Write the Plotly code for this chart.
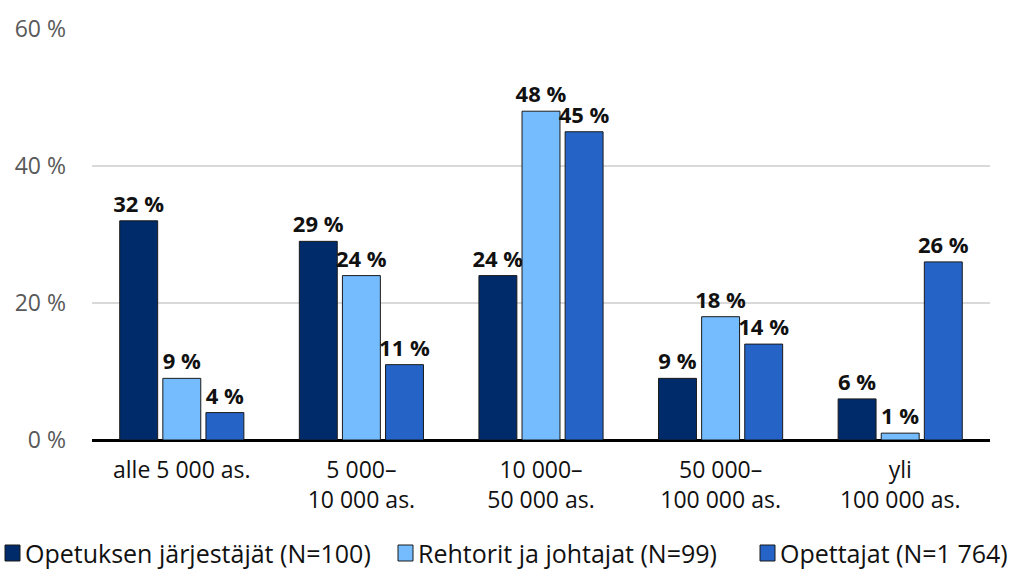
import plotly.graph_objects as go

categories = ["alle 5 000 as.", "5 000–<br>10 000 as.", "10 000–<br>50 000 as.",
              "50 000–<br>100 000 as.", "yli<br>100 000 as."]
series_names = ["Opetuksen järjestäjät (N=100)", "Rehtorit ja johtajat (N=99)",
                "Opettajat (N=1 764)"]
jarjestajat = [32, 29, 24, 9, 6]
rehtorit = [9, 24, 48, 18, 1]
opettajat = [4, 11, 45, 14, 26]
y_ticks = [0, 20, 40, 60]
y_tick_labels = ["0 %", "20 %", "40 %", "60 %"]

colors = ["#002B6B", "#75BCFF", "#2563C6"]
font_family = "Open Sans"

fig = go.Figure()
for name, vals, col in zip(series_names, [jarjestajat, rehtorit, opettajat], colors):
    fig.add_trace(go.Bar(
        x=categories, y=vals, name=name,
        marker=dict(color=col, line=dict(color="#1a1a1a", width=1)),
        text=[f"<b>{v} %</b>" for v in vals], textposition="outside",
        textfont=dict(size=22, color="#111111", family=font_family),
        cliponaxis=False, showlegend=False,
    ))

# Legend row below the chart: swatch + label per series
legend_x = [5, 398, 760]
legend_y = 553
shapes = []
annotations = []
for lx, name, col in zip(legend_x, series_names, colors):
    shapes.append(dict(type="rect", xref="paper", yref="paper",
                       x0=(lx - 92) / 898, x1=(lx + 15 - 92) / 898,
                       y0=(440 - legend_y - 8) / 411, y1=(440 - legend_y + 8) / 411,
                       fillcolor=col, line=dict(color="#1a1a1a", width=1)))
    annotations.append(dict(xref="paper", yref="paper", x=(lx + 18 - 92) / 898,
                            y=(440 - legend_y) / 411, xanchor="left", yanchor="middle",
                            text=name, showarrow=False,
                            font=dict(size=25, color="#111111", family=font_family)))

fig.update_layout(
    width=1017, height=570,
    margin=dict(l=92, r=27, t=29, b=130),
    paper_bgcolor="white", plot_bgcolor="white",
    barmode="group", bargap=0.28, bargroupgap=0.12,
    font=dict(family=font_family, size=23, color="#111111"),
    showlegend=False,
    shapes=shapes, annotations=annotations,
    xaxis=dict(showline=False, ticks="", tickfont=dict(size=23, color="#111111"),
               ticklabelstandoff=14, automargin=False),
    yaxis=dict(range=[0, 60], tickvals=y_ticks, ticktext=y_tick_labels,
               showgrid=True, gridcolor="#d9d9d9", gridwidth=1.5,
               zeroline=True, zerolinecolor="#000000", zerolinewidth=3,
               tickfont=dict(size=23, color="#595959"), ticklabelstandoff=25,
               automargin=False),
    uniformtext=dict(mode="show", minsize=22),
)

fig.write_html("out.html")
